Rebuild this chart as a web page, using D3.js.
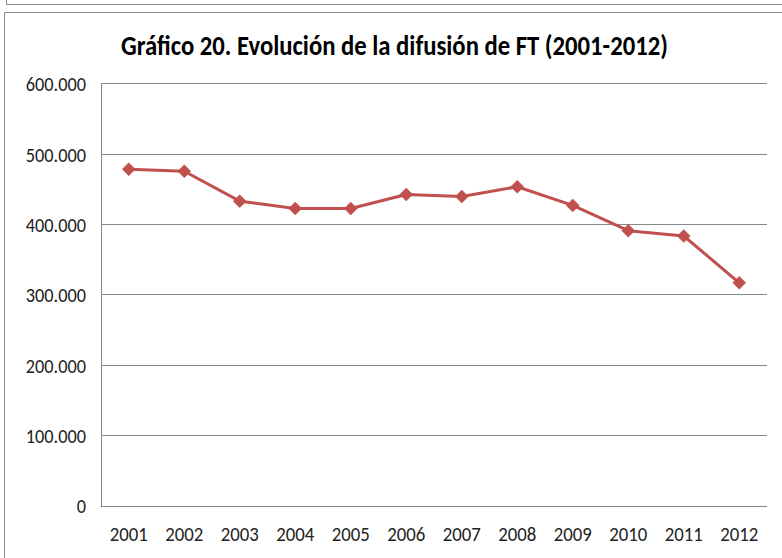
<!DOCTYPE html>
<html><head><meta charset="utf-8">
<script src="https://cdn.jsdelivr.net/npm/d3@7"></script>
<style>body{margin:0;background:#fff}svg{display:block}</style>
</head><body>
<svg id="c" width="782" height="558"></svg>
<script>
const years = ["2001","2002","2003","2004","2005","2006","2007","2008","2009","2010","2011","2012"];
const values = [478000,475000,432500,422000,422000,442000,439000,453000,426500,390500,383000,316500];
const yTicks = [0,100000,200000,300000,400000,500000,600000];
const title = "Gráfico 20. Evolución de la difusión de FT (2001-2012)";

const svg = d3.select("#c");
const font = "Carlito, Calibri, Lato, sans-serif";
// frames
svg.append("path").attr("d","M6.5,0 V4.5 H782").attr("fill","none").attr("stroke","#8c8c8c");
svg.append("path").attr("d","M4.5,558 V12.5 H782").attr("fill","none").attr("stroke","#8c8c8c");

const L=101, R=767, T=83.3, B=505.5;
const x = d3.scaleBand().domain(years).range([L,R]);
const y = d3.scaleLinear().domain([0,600000]).range([B,T]);

// gridlines
svg.append("g").selectAll("line").data(yTicks).join("line")
  .attr("x1",L).attr("x2",R).attr("y1",d=>Math.round(y(d))+0.5).attr("y2",d=>Math.round(y(d))+0.5)
  .attr("stroke","#878787").attr("stroke-width",1);
svg.append("line").attr("x1",L+0.5).attr("x2",L+0.5).attr("y1",Math.round(T)+0.5).attr("y2",Math.round(B)+0.5)
  .attr("stroke","#878787");

// y axis labels
const yAxis = d3.axisLeft(y).tickValues(yTicks).tickSize(0).tickPadding(15)
  .tickFormat(d => d===0 ? "0" : (d/1000).toFixed(0)+".000");
const gy = svg.append("g").attr("transform",`translate(${L},0)`).call(yAxis);
gy.select(".domain").remove();
gy.selectAll("text").attr("font-family",font).attr("font-size",18.3).attr("fill","#222")
  .attr("transform","translate(0,0.8) scale(1,1.12)");

// x axis labels
const xAxis = d3.axisBottom(x).tickSize(0).tickPadding(18.4);
const gx = svg.append("g").attr("transform",`translate(0,${B})`).call(xAxis);
gx.select(".domain").remove();
gx.selectAll("text").attr("font-family",font).attr("font-size",18.8).attr("fill","#222")
  .attr("transform","scale(1,1.12)");

// title
svg.append("text").attr("transform","translate(394.5,55) scale(1,1.13)").attr("text-anchor","middle")
  .attr("font-family",font).attr("font-weight","bold").attr("font-size",24.7).attr("fill","#000")
  .text(title);

// line
const data = years.map((yr,i)=>({yr,v:values[i]}));
const cx = d => x(d.yr)+x.bandwidth()/2;
svg.append("path").datum(data)
  .attr("d",d3.line().x(cx).y(d=>y(d.v)))
  .attr("fill","none").attr("stroke","#C0504D").attr("stroke-width",3).attr("stroke-linejoin","round");
svg.append("g").selectAll("path").data(data).join("path")
  .attr("transform",d=>`translate(${cx(d)},${y(d.v)})`)
  .attr("d","M0,-6.5 L6.5,0 L0,6.5 L-6.5,0 Z")
  .attr("fill","#C0504D").attr("stroke","#C0504D").attr("stroke-width",0.5);
</script>
</body></html>
